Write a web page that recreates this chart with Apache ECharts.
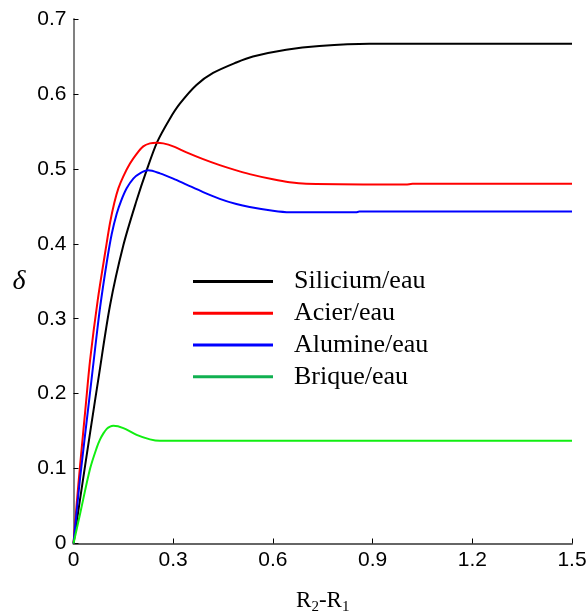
<!DOCTYPE html>
<html>
<head>
<meta charset="utf-8">
<script src="https://cdn.jsdelivr.net/npm/echarts@6/dist/echarts.min.js"></script>
<style>
  html, body { margin: 0; padding: 0; background: #fff; }
  #chart { width: 588px; height: 614px; }
</style>
</head>
<body>
<div id="chart"></div>
<script>
// Thermal efficiency delta versus thickness R2-R1 for four material/water pairs
const seriesNames = ['Silicium/eau', 'Acier/eau', 'Alumine/eau', 'Brique/eau'];

const siliciumX = [0, 0.02, 0.05, 0.075, 0.11, 0.15, 0.19, 0.22, 0.252, 0.29, 0.32, 0.37, 0.42, 0.49, 0.54, 0.64, 0.74, 0.89, 1.0, 1.2, 1.5];
const siliciumY = [0, 0.060, 0.148, 0.220, 0.318, 0.398, 0.458, 0.498, 0.536, 0.567, 0.587, 0.612, 0.628, 0.642, 0.650, 0.659, 0.664, 0.667, 0.667, 0.667, 0.667];

const acierX = [0, 0.01, 0.02, 0.037, 0.05, 0.073, 0.097, 0.11, 0.123, 0.135, 0.15, 0.17, 0.19, 0.21, 0.23, 0.25, 0.27, 0.3, 0.34, 0.39, 0.44, 0.49, 0.53, 0.6, 0.65, 0.7, 1.0, 1.02, 1.5];
const acierY = [0, 0.055, 0.105, 0.185, 0.245, 0.325, 0.393, 0.428, 0.455, 0.474, 0.490, 0.507, 0.520, 0.530, 0.534, 0.535, 0.534, 0.530, 0.522, 0.513, 0.505, 0.498, 0.493, 0.486, 0.482, 0.480, 0.479, 0.480, 0.480];

const alumineX = [0, 0.01, 0.02, 0.047, 0.065, 0.08, 0.1, 0.115, 0.13, 0.143, 0.16, 0.18, 0.2, 0.225, 0.26, 0.3, 0.34, 0.39, 0.44, 0.49, 0.53, 0.6, 0.65, 0.85, 0.86, 1.5];
const alumineY = [0, 0.045, 0.088, 0.191, 0.260, 0.315, 0.375, 0.413, 0.440, 0.457, 0.474, 0.487, 0.494, 0.498, 0.494, 0.487, 0.479, 0.469, 0.460, 0.453, 0.449, 0.444, 0.442, 0.442, 0.443, 0.443];

const briqueX = [0, 0.02, 0.05, 0.07, 0.08, 0.09, 0.1, 0.11, 0.12, 0.15, 0.19, 0.23, 0.26, 0.5, 1.0, 1.5];
const briqueY = [0, 0.040, 0.100, 0.128, 0.139, 0.147, 0.153, 0.156, 0.157, 0.154, 0.145, 0.139, 0.137, 0.137, 0.137, 0.137];

const xTicks = { min: 0, max: 1.5, interval: 0.3 };
const yTicks = { min: 0, max: 0.7, interval: 0.1 };

const lineColors = ['#000000', '#ff0000', '#0000ff', '#11ee11'];
const legendColors = ['#000000', '#ff0000', '#0000ff', '#10b050'];

function pairs(xs, ys) { return xs.map((x, i) => [x, ys[i]]); }
const allData = [pairs(siliciumX, siliciumY), pairs(acierX, acierY), pairs(alumineX, alumineY), pairs(briqueX, briqueY)];

const tickFont = "'Liberation Sans Narrow', 'Arial Narrow', 'Liberation Sans', sans-serif";
const serifFont = "'Liberation Serif', 'Times New Roman', serif";

const chart = echarts.init(document.getElementById('chart'), null, { renderer: 'canvas' });
chart.setOption({
  animation: false,
  backgroundColor: '#ffffff',
  grid: { left: 73.5, right: 16, top: 19, bottom: 70.5, containLabel: false, outerBoundsMode: 'none' },
  xAxis: {
    type: 'value',
    min: xTicks.min, max: xTicks.max, interval: xTicks.interval,
    name: '{r|R}{s|2}{r|-R}{s|1}',
    nameLocation: 'middle',
    nameGap: 44,
    nameTextStyle: {
      rich: {
        r: { fontFamily: serifFont, fontSize: 23, color: '#000' },
        s: { fontFamily: serifFont, fontSize: 15, color: '#000', padding: [12, 0, 0, 0] }
      }
    },
    axisLine: { lineStyle: { color: '#666', width: 2 } },
    axisTick: { inside: true, length: 5, lineStyle: { color: '#000', width: 1 } },
    axisLabel: { fontFamily: tickFont, fontSize: 21, color: '#000', margin: 6 },
    splitLine: { show: false }
  },
  yAxis: {
    type: 'value',
    min: yTicks.min, max: yTicks.max, interval: yTicks.interval,
    name: 'δ',
    nameLocation: 'middle',
    nameRotate: 0,
    nameGap: 48,
    nameTextStyle: { fontFamily: serifFont, fontStyle: 'italic', fontSize: 28, color: '#000', padding: [16, 0, 0, 0] },
    axisLine: { lineStyle: { color: '#808080', width: 2 } },
    axisTick: { inside: true, length: 5, lineStyle: { color: '#000', width: 1 } },
    axisLabel: { fontFamily: tickFont, fontSize: 21, color: '#000', margin: 7 },
    splitLine: { show: false }
  },
  legend: {
    orient: 'vertical',
    left: 193,
    top: 265.5,
    icon: 'rect',
    itemWidth: 80,
    itemHeight: 3,
    itemGap: 0,
    padding: 0,
    textStyle: { fontFamily: serifFont, fontSize: 26, color: '#000', lineHeight: 31.8, padding: [0, 0, 0, 16] },
    data: seriesNames.map((n, i) => ({
      name: n,
      itemStyle: { color: legendColors[i] }
    }))
  },
  series: seriesNames.map((n, i) => ({
    name: n,
    type: 'line',
    data: allData[i],
    smooth: 0.3,
    symbol: 'none',
    lineStyle: { color: lineColors[i], width: 2 },
    itemStyle: { color: lineColors[i] }
  }))
});
</script>
</body>
</html>
